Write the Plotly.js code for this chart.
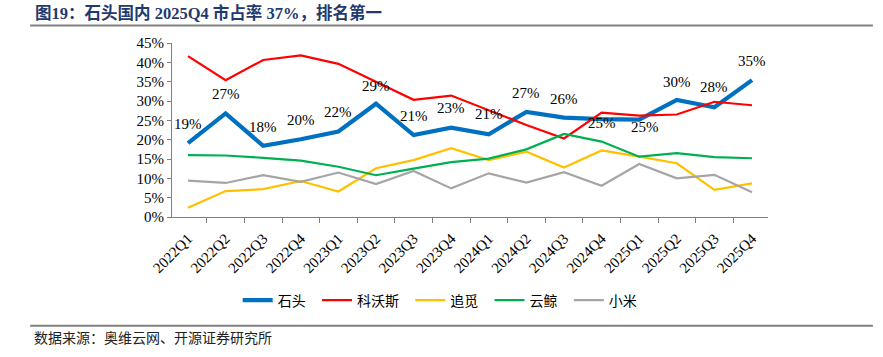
<!DOCTYPE html>
<html>
<head>
<meta charset="utf-8">
<script src="https://cdn.plot.ly/plotly-3.0.1.min.js"></script>
<style>html,body{margin:0;padding:0;background:#fff;}#chart{width:883px;height:357px;}</style>
</head>
<body>
<div id="chart"></div>
<script>
const quarters = ["2022Q1","2022Q2","2022Q3","2022Q4","2023Q1","2023Q2","2023Q3","2023Q4","2024Q1","2024Q2","2024Q3","2024Q4","2025Q1","2025Q2","2025Q3","2025Q4"];
const roborock = [19.1,26.8,18.4,20.1,22.1,29.3,21.2,23.1,21.4,27.2,25.7,25.3,25.2,30.3,28.4,35.4];
const ecovacs  = [41.6,35.4,40.6,41.8,39.6,35.0,30.3,31.4,27.6,23.8,20.3,27.0,26.2,26.5,29.8,28.9];
const dreame   = [2.4,6.7,7.2,9.3,6.6,12.6,14.7,17.8,14.7,16.9,12.8,17.2,15.6,13.9,7.0,8.7];
const narwal   = [16.0,15.9,15.3,14.6,13.0,10.8,12.5,14.2,15.1,17.5,21.5,19.5,15.6,16.5,15.5,15.2];
const xiaomi   = [9.4,8.8,10.8,9.1,11.5,8.5,11.9,7.4,11.3,8.9,11.6,8.1,13.7,10.0,10.9,6.4];
const seriesNames = ["石头","科沃斯","追觅","云鲸","小米"];
const yTickVals = [0,5,10,15,20,25,30,35,40,45];

// label offsets (px) for the 石头 data labels
const labelDy = [19,19,19,19,20,18,19,20,20,19,19,-4,-7,18,20,19];
const labelDx = [0,0,0,0,0,0,0,0,0,0,0,0,6,0,0,0];

const serif = "Liberation Serif, Times New Roman, serif";
const cjk = "Liberation Serif, Noto Sans CJK SC, serif";
const pad = "\u00a0\u00a0";

function tr(name, y, color, width){
  return {type:"scatter", mode:"lines", name:name + pad, x:quarters, y:y,
    line:{color:color, width:width}, hoverinfo:"skip"};
}
const data = [
  tr(seriesNames[0], roborock, "#0070C0", 4.2),
  tr(seriesNames[1], ecovacs, "#FF0000", 2.2),
  tr(seriesNames[2], dreame, "#FFC000", 2.2),
  tr(seriesNames[3], narwal, "#00B050", 2.2),
  tr(seriesNames[4], xiaomi, "#A5A5A5", 2.2)
];

const annotations = roborock.map((v,i)=>({
  x: quarters[i], y: v, xref:"x", yref:"y", text: Math.round(v)+"%",
  showarrow:false, yshift: labelDy[i], xshift: labelDx[i],
  font:{family:serif, size:15, color:"#000"}
}));
annotations.push({
  xref:"paper", yref:"paper", x:-0.233, y:1.175, xanchor:"left", yanchor:"middle",
  text:"<b>图19：石头国内 2025Q4 市占率 37%，排名第一</b>", showarrow:false,
  font:{family:cjk, size:16.5, color:"#1F3A6E"}
});
annotations.push({
  xref:"paper", yref:"paper", x:-0.235, y:-0.69, xanchor:"left", yanchor:"middle",
  text:"数据来源：奥维云网、开源证券研究所", showarrow:false,
  font:{family:"Noto Sans CJK SC, sans-serif", size:14, color:"#222"}
});

const layout = {
  width:883, height:357,
  margin:{l:172, r:115, t:43, b:140},
  paper_bgcolor:"#fff", plot_bgcolor:"#fff",
  showlegend:true,
  legend:{orientation:"h", x:0.455, xanchor:"center", y:-0.48, yanchor:"middle",
    font:{family:"Noto Sans CJK SC, sans-serif", size:14, color:"#000"},
    itemwidth:30, tracegroupgap:0},
  xaxis:{type:"category", showgrid:false, zeroline:false, showline:true,
    linecolor:"#7f7f7f", linewidth:1, ticks:"outside", ticklen:5, tickcolor:"#7f7f7f",
    tickson:"boundaries", tickangle:-45, ticklabelstandoff:6,
    tickfont:{family:serif, size:15, color:"#000"}},
  yaxis:{range:[0,45], tickvals:yTickVals, ticktext:yTickVals.map(v=>v+"%"),
    showgrid:false, zeroline:false, showline:true, linecolor:"#7f7f7f", linewidth:1,
    ticks:"outside", ticklen:4, tickcolor:"#7f7f7f",
    tickfont:{family:serif, size:15, color:"#000"}},
  annotations: annotations,
  shapes:[
    {type:"line", xref:"paper", yref:"paper", x0:-0.238, x1:1.176, y0:1.1, y1:1.1,
      line:{color:"#808080", width:2}},
    {type:"line", xref:"paper", yref:"paper", x0:-0.238, x1:1.176, y0:-0.625, y1:-0.625,
      line:{color:"#808080", width:2}}
  ]
};

Plotly.newPlot("chart", data, layout, {displayModeBar:false, staticPlot:true});
</script>
</body>
</html>
